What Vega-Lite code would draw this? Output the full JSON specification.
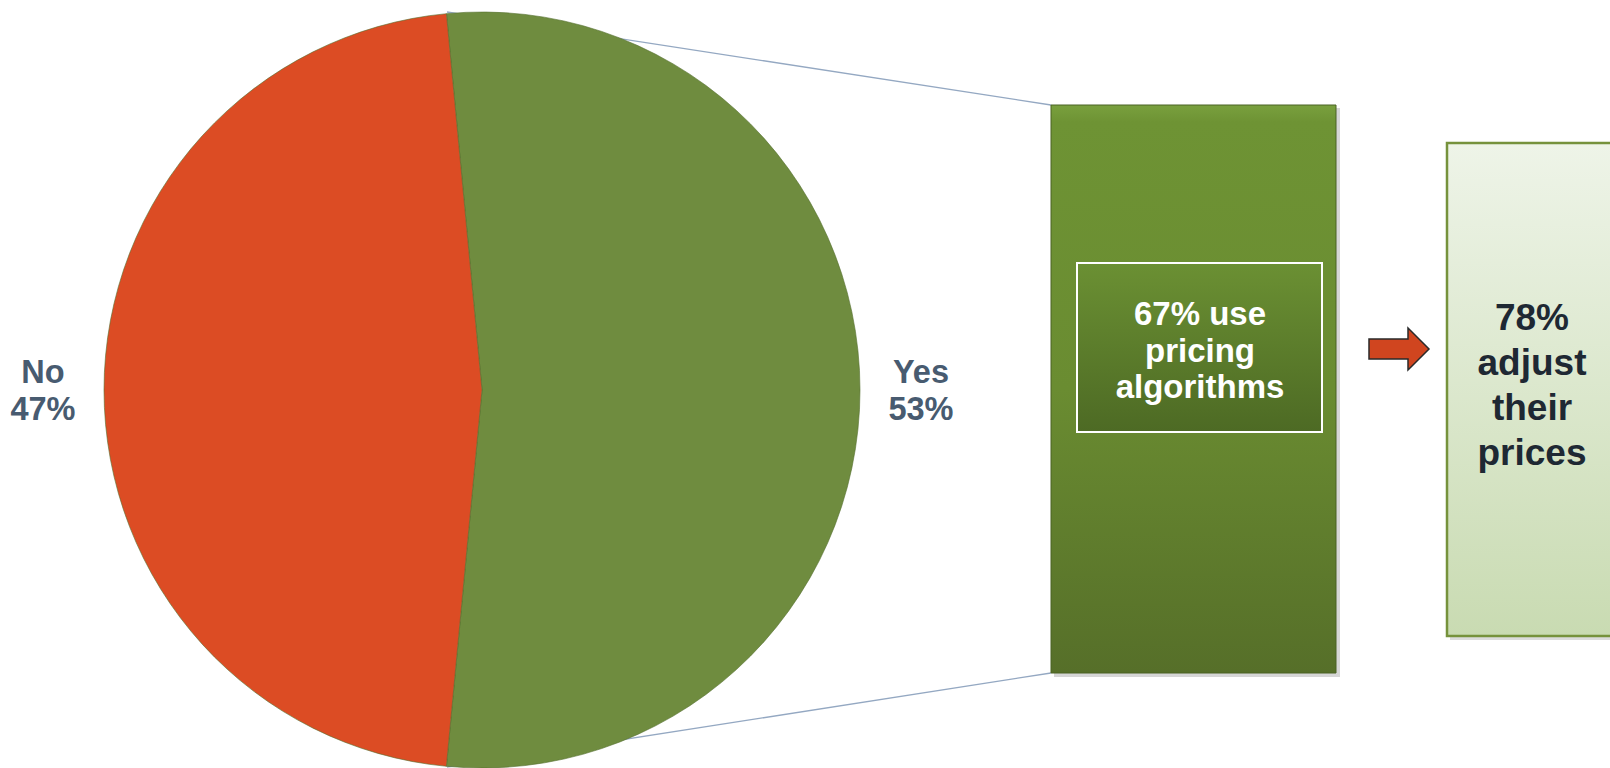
{
  "$schema": "https://vega.github.io/schema/vega-lite/v6.json",
  "width": 1610,
  "height": 768,
  "autosize": {"type": "none"},
  "padding": 0,
  "background": "white",
  "config": {"view": {"stroke": null}, "font": "Liberation Sans"},
  "datasets": {
    "survey": [
      {"answer": "Yes", "share": 53, "label": "Yes\n53%"},
      {"answer": "No", "share": 47, "label": "No\n47%"}
    ],
    "algorithms": [
      {"group": "Yes", "share": 67, "label": "67% use\npricing\nalgorithms"}
    ],
    "adjust": [
      {"group": "use pricing algorithms", "share": 78, "label": "78%\nadjust\ntheir\nprices"}
    ],
    "link": [{"from": "Yes", "to": "use pricing algorithms"}]
  },
  "layer": [
    {
      "data": {"name": "link"},
      "mark": {"type": "rule", "stroke": "#94A8C2", "strokeWidth": 1.3},
      "encoding": {
        "x": {"datum": 447, "type": "quantitative", "scale": {"domain": [0, 1610], "nice": false, "zero": false}, "axis": null},
        "y": {"datum": 12, "type": "quantitative", "scale": {"domain": [0, 768], "nice": false, "zero": false, "reverse": true}, "axis": null},
        "x2": {"datum": 1051},
        "y2": {"datum": 105}
      }
    },
    {
      "data": {"name": "link"},
      "mark": {"type": "rule", "stroke": "#94A8C2", "strokeWidth": 1.3},
      "encoding": {
        "x": {"datum": 447, "type": "quantitative", "scale": {"domain": [0, 1610], "nice": false, "zero": false}, "axis": null},
        "y": {"datum": 767, "type": "quantitative", "scale": {"domain": [0, 768], "nice": false, "zero": false, "reverse": true}, "axis": null},
        "x2": {"datum": 1051},
        "y2": {"datum": 673}
      }
    },
    {
      "data": {"name": "survey"},
      "encoding": {
        "theta": {"field": "share", "type": "quantitative", "stack": true, "scale": {"range": [-0.0942, 6.1890]}},
        "order": {"field": "answer", "sort": "descending"},
        "x": {"datum": 482, "type": "quantitative", "scale": {"domain": [0, 1610], "nice": false, "zero": false}, "axis": null},
        "y": {"datum": 390, "type": "quantitative", "scale": {"domain": [0, 768], "nice": false, "zero": false, "reverse": true}, "axis": null}
      },
      "layer": [
        {
          "mark": {"type": "arc", "outerRadius": 378, "stroke": "#55702E", "strokeWidth": 1, "strokeOpacity": 0.6},
          "encoding": {
            "color": {"field": "answer", "type": "nominal", "scale": {"domain": ["Yes", "No"], "range": ["#6F8C3F", "#DC4C24"]}, "legend": null}
          }
        },
        {
          "mark": {"type": "text", "radius": 439, "dy": -7, "lineBreak": "\n", "fontSize": 32.5, "lineHeight": 37, "fontWeight": "bold", "font": "Liberation Sans", "align": "center", "baseline": "alphabetic", "color": "#485B70"},
          "encoding": {
            "text": {"field": "label", "type": "nominal"}
          }
        }
      ]
    },
    {
      "data": {"name": "algorithms"},
      "mark": {"type": "rect", "fill": "#8A8A8A", "opacity": 0.35},
      "encoding": {
        "x": {"datum": 1054, "type": "quantitative", "scale": {"domain": [0, 1610], "nice": false, "zero": false}, "axis": null},
        "y": {"datum": 108, "type": "quantitative", "scale": {"domain": [0, 768], "nice": false, "zero": false, "reverse": true}, "axis": null},
        "x2": {"datum": 1340},
        "y2": {"datum": 677}
      }
    },
    {
      "data": {"name": "algorithms"},
      "mark": {
        "type": "rect",
        "fill": {"gradient": "linear", "x1": 0, "y1": 0, "x2": 0, "y2": 1, "stops": [
          {"offset": 0, "color": "#79A03E"},
          {"offset": 0.03, "color": "#6E9334"},
          {"offset": 0.5, "color": "#6A8C31"},
          {"offset": 1, "color": "#566F29"}
        ]},
        "stroke": "#4B6324",
        "strokeWidth": 1
      },
      "encoding": {
        "x": {"datum": 1051, "type": "quantitative", "scale": {"domain": [0, 1610], "nice": false, "zero": false}, "axis": null},
        "y": {"datum": 105, "type": "quantitative", "scale": {"domain": [0, 768], "nice": false, "zero": false, "reverse": true}, "axis": null},
        "x2": {"datum": 1336},
        "y2": {"datum": 673}
      }
    },
    {
      "data": {"name": "algorithms"},
      "encoding": {
        "x": {"datum": 1077, "type": "quantitative", "scale": {"domain": [0, 1610], "nice": false, "zero": false}, "axis": null},
        "y": {"datum": 263, "type": "quantitative", "scale": {"domain": [0, 768], "nice": false, "zero": false, "reverse": true}, "axis": null},
        "x2": {"datum": 1322},
        "y2": {"datum": 432}
      },
      "mark": {
        "type": "rect",
        "fill": {"gradient": "linear", "x1": 0, "y1": 0, "x2": 0, "y2": 1, "stops": [
          {"offset": 0, "color": "#6B9033"},
          {"offset": 1, "color": "#4D6A24"}
        ]},
        "stroke": "white",
        "strokeWidth": 2
      }
    },
    {
      "data": {"name": "algorithms"},
      "mark": {"type": "text", "lineBreak": "\n", "fontSize": 33, "lineHeight": 36.5, "fontWeight": "bold", "font": "Liberation Sans", "align": "center", "baseline": "alphabetic", "color": "white"},
      "encoding": {
        "x": {"datum": 1200, "type": "quantitative", "scale": {"domain": [0, 1610], "nice": false, "zero": false}, "axis": null},
        "y": {"datum": 325, "type": "quantitative", "scale": {"domain": [0, 768], "nice": false, "zero": false, "reverse": true}, "axis": null},
        "text": {"field": "label", "type": "nominal"}
      }
    },
    {
      "data": {"name": "link"},
      "mark": {"type": "point", "filled": true, "shape": "M-1,-0.333L0.3,-0.333L0.3,-0.7L1,0L0.3,0.7L0.3,0.333L-1,0.333Z", "size": 3600, "fill": "#D0451F", "stroke": "#2A2A2A", "strokeWidth": 1.5, "opacity": 1},
      "encoding": {
        "x": {"datum": 1399, "type": "quantitative", "scale": {"domain": [0, 1610], "nice": false, "zero": false}, "axis": null},
        "y": {"datum": 349, "type": "quantitative", "scale": {"domain": [0, 768], "nice": false, "zero": false, "reverse": true}, "axis": null}
      }
    },
    {
      "data": {"name": "adjust"},
      "mark": {"type": "rect", "fill": "#8A8A8A", "opacity": 0.3},
      "encoding": {
        "x": {"datum": 1450, "type": "quantitative", "scale": {"domain": [0, 1610], "nice": false, "zero": false}, "axis": null},
        "y": {"datum": 146, "type": "quantitative", "scale": {"domain": [0, 768], "nice": false, "zero": false, "reverse": true}, "axis": null},
        "x2": {"datum": 1620},
        "y2": {"datum": 640}
      }
    },
    {
      "data": {"name": "adjust"},
      "encoding": {
        "x": {"datum": 1447, "type": "quantitative", "scale": {"domain": [0, 1610], "nice": false, "zero": false}, "axis": null},
        "y": {"datum": 143, "type": "quantitative", "scale": {"domain": [0, 768], "nice": false, "zero": false, "reverse": true}, "axis": null},
        "x2": {"datum": 1620},
        "y2": {"datum": 636}
      },
      "mark": {
        "type": "rect",
        "fill": {"gradient": "linear", "x1": 0, "y1": 0, "x2": 0, "y2": 1, "stops": [
          {"offset": 0, "color": "#EEF4E8"},
          {"offset": 1, "color": "#C9DBB2"}
        ]},
        "stroke": "#76923C",
        "strokeWidth": 2.5
      }
    },
    {
      "data": {"name": "adjust"},
      "mark": {"type": "text", "lineBreak": "\n", "fontSize": 37, "lineHeight": 45, "fontWeight": "bold", "font": "Liberation Sans", "align": "center", "baseline": "alphabetic", "color": "#1E2833"},
      "encoding": {
        "x": {"datum": 1532, "type": "quantitative", "scale": {"domain": [0, 1610], "nice": false, "zero": false}, "axis": null},
        "y": {"datum": 330, "type": "quantitative", "scale": {"domain": [0, 768], "nice": false, "zero": false, "reverse": true}, "axis": null},
        "text": {"field": "label", "type": "nominal"}
      }
    }
  ]
}
